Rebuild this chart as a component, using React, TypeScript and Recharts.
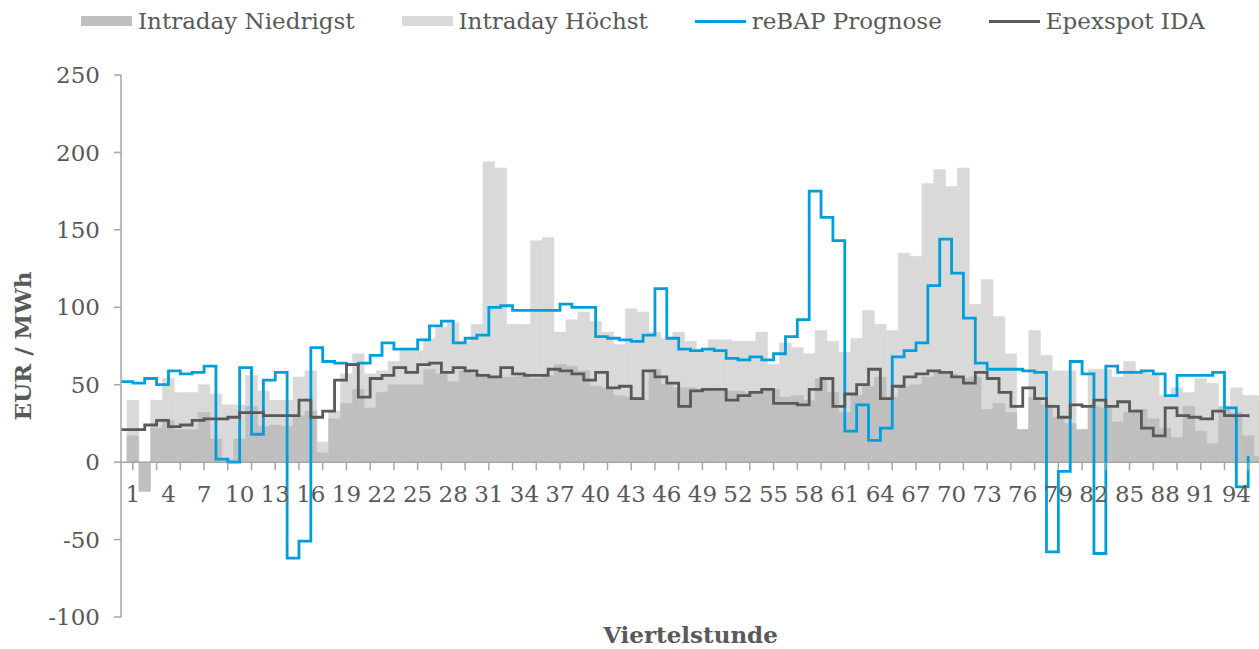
import { ComposedChart, Bar, Line, XAxis, YAxis, ReferenceLine, Label } from 'recharts'

// 96 Viertelstunden, Index 0 ist nur der Startpunkt der Stufenlinien
const quarters = Array.from({ length: 97 }, (_, i) => i)

const tickLabels = ['1', '4', '7', '10', '13', '16', '19', '22', '25', '28', '31', '34', '37', '40', '43', '46',
  '49', '52', '55', '58', '61', '64', '67', '70', '73', '76', '79', '82', '85', '88', '91', '94']

const yTicks = [-100, -50, 0, 50, 100, 150, 200, 250]

const intradayNiedrigst = [
  17, -19, 22, 27, 21, 21, 32, 15, 2, 15, 36, 23,
  24, 23, 30, 33, 6, 28, 38, 47, 35, 45, 50, 50,
  50, 60, 57, 52, 59, 57, 55, 55, 55, 57, 54, 56,
  63, 62, 59, 49, 48, 43, 42, 40, 60, 50, 48, 48,
  47, 46, 46, 46, 45, 46, 47, 42, 43, 40, 54, 45,
  32, 43, 49, 55, 42, 49, 50, 55, 58, 57, 54, 55,
  34, 38, 32, 21, 42, 37, 29, 25, 21, 36, 35, 26,
  32, 34, 28, 22, 16, 36, 20, 12, 36, 32, 17, 4,
]

const intradayHoechst = [
  40, 0, 40, 54, 45, 45, 50, 44, 37, 37, 56, 46,
  40, 40, 55, 59, 13, 33, 57, 70, 57, 59, 65, 72,
  72, 80, 87, 90, 78, 89, 194, 190, 89, 89, 143, 145,
  84, 92, 97, 91, 84, 76, 99, 97, 84, 80, 84, 78,
  73, 79, 79, 78, 78, 84, 63, 77, 74, 70, 85, 78,
  71, 80, 98, 89, 85, 135, 133, 180, 189, 178, 190, 102,
  118, 94, 70, 21, 85, 69, 59, 59, 21, 60, 60, 55,
  65, 59, 57, 43, 48, 45, 54, 51, 34, 48, 43, 43,
]

const rebapPrognose = [
  52, 51, 54, 50, 59, 57, 58, 62, 2, 0, 61, 18,
  53, 58, -62, -51, 74, 65, 64, 63, 64, 69, 77, 73,
  73, 79, 88, 91, 77, 80, 82, 100, 101, 98, 98, 98,
  98, 102, 100, 100, 81, 80, 79, 78, 82, 112, 80, 73,
  72, 73, 72, 67, 66, 68, 66, 70, 81, 92, 175, 158,
  143, 20, 37, 14, 22, 68, 72, 77, 114, 144, 122, 93,
  64, 60, 60, 60, 59, 58, -58, -6, 65, 57, -59, 62,
  58, 58, 59, 57, 43, 56, 56, 56, 58, 35, -16, 4,
]

const epexspotIda = [
  21, 21, 24, 27, 23, 24, 27, 28, 28, 29, 32, 32,
  30, 30, 30, 40, 29, 33, 53, 63, 42, 54, 56, 61,
  58, 63, 64, 58, 61, 59, 56, 55, 61, 57, 56, 56,
  60, 59, 57, 53, 58, 48, 49, 41, 59, 55, 51, 36,
  46, 47, 47, 40, 43, 45, 47, 38, 38, 37, 47, 54,
  36, 44, 50, 60, 41, 49, 55, 57, 59, 58, 55, 51,
  58, 54, 45, 36, 48, 41, 36, 29, 37, 36, 40, 36,
  39, 33, 22, 17, 35, 30, 29, 28, 33, 30, 30, 29,
]

const FONT = '"DejaVu Serif", serif'
const TEXT = '#595959'
const AXIS = '#a6a6a6'
const C_LOW = '#bfbfbf'
const C_HIGH = '#d9d9d9'
const C_REBAP = '#009fdc'
const C_EPEX = '#595959'

const W = 1266
const H = 649
const TOP = 75
const Y_AXIS_W = 121
const X_AXIS_H = 32
const PLOT_H = H - TOP - X_AXIS_H
const PLOT_W = W - Y_AXIS_W
const BAND = PLOT_W / 96.5
const ZERO_Y = TOP + (PLOT_H * 250) / 350

// Linienwert an Position q gilt von Mitte q bis Mitte q+1 (Stufe wie im Original)
const data = quarters.map((q) => ({
  q: q === 0 ? '' : String(q),
  niedrigst: q === 0 ? null : intradayNiedrigst[q - 1],
  hoechst: q === 0 ? null : intradayHoechst[q - 1],
  rebap: q < 96 ? rebapPrognose[q] : null,
  epex: q < 96 ? epexspotIda[q] : null,
}))

const legendItems = [
  { name: 'Intraday Niedrigst', color: C_LOW, kind: 'bar' },
  { name: 'Intraday Höchst', color: C_HIGH, kind: 'bar' },
  { name: 'reBAP Prognose', color: C_REBAP, kind: 'line' },
  { name: 'Epexspot IDA', color: C_EPEX, kind: 'line' },
]

function QuarterTick(props: any) {
  const { x, index, payload } = props
  const label = String(payload.value)
  return (
    <g>
      {index % 2 === 1 && (
        <line x1={x} x2={x} y1={ZERO_Y} y2={ZERO_Y + 8} stroke={AXIS} strokeWidth={1.5} />
      )}
      {tickLabels.includes(label) && (
        <text x={x} y={ZERO_Y + 40} textAnchor="middle" fill={TEXT} fontSize={23} fontFamily={FONT}>
          {label}
        </text>
      )}
    </g>
  )
}

export default function App() {
  return (
    <div style={{ position: 'absolute', left: 0, top: 0, width: 1259, height: 649, overflow: 'hidden', background: '#fff' }}>
      <div
        style={{
          position: 'absolute', top: 0, left: 81, height: 42,
          display: 'flex', alignItems: 'center', gap: 47,
          fontFamily: FONT, fontSize: 23, color: TEXT, whiteSpace: 'nowrap',
        }}
      >
        {legendItems.map((item) => (
          <div key={item.name} style={{ display: 'flex', alignItems: 'center', gap: 6 }}>
            <span style={{ display: 'inline-block', width: 51, height: item.kind === 'bar' ? 10 : 3, background: item.color }} />
            <span>{item.name}</span>
          </div>
        ))}
      </div>
      <ComposedChart
        width={W}
        height={H}
        data={data}
        margin={{ top: TOP, right: 0, bottom: 0, left: 0 }}
        barCategoryGap={0}
        barGap={-11.8}
      >
        <XAxis
          dataKey="q"
          interval={0}
          height={X_AXIS_H}
          axisLine={false}
          tickLine={false}
          tickSize={0}
          tick={<QuarterTick />}
          padding={{ left: -BAND / 2, right: 0 }}
        >
          <Label
            content={() => (
              <text x={Y_AXIS_W + PLOT_W / 2 - 3} y={H - 6} textAnchor="middle" fill={TEXT} fontSize={23} fontWeight="bold" fontFamily={FONT}>
                Viertelstunde
              </text>
            )}
          />
        </XAxis>
        <YAxis
          width={Y_AXIS_W}
          domain={[-100, 250]}
          ticks={yTicks}
          interval={0}
          tickSize={7}
          tickMargin={14}
          axisLine={{ stroke: AXIS, strokeWidth: 1.5 }}
          tickLine={{ stroke: AXIS, strokeWidth: 1.5 }}
          tick={{ fill: TEXT, fontSize: 23, fontFamily: FONT }}
        >
          <Label
            content={() => (
              <text
                x={22}
                y={TOP + PLOT_H / 2}
                transform={`rotate(-90 22 ${TOP + PLOT_H / 2})`}
                textAnchor="middle"
                dominantBaseline="central"
                fill={TEXT}
                fontSize={23}
                fontWeight="bold"
                fontFamily={FONT}
              >
                EUR / MWh
              </text>
            )}
          />
        </YAxis>
        <Bar dataKey="hoechst" name="Intraday Höchst" fill={C_HIGH} stroke={C_HIGH} strokeWidth={0.5} barSize={11.8} isAnimationActive={false} />
        <Bar dataKey="niedrigst" name="Intraday Niedrigst" fill={C_LOW} stroke={C_LOW} strokeWidth={0.5} barSize={11.8} isAnimationActive={false} />
        <ReferenceLine y={0} stroke={AXIS} strokeWidth={1.5} />
        <Line type="stepAfter" dataKey="rebap" name="reBAP Prognose" stroke={C_REBAP} strokeWidth={2.8} dot={false} activeDot={false} isAnimationActive={false} />
        <Line type="stepAfter" dataKey="epex" name="Epexspot IDA" stroke={C_EPEX} strokeWidth={2.8} dot={false} activeDot={false} isAnimationActive={false} />
      </ComposedChart>
    </div>
  )
}
